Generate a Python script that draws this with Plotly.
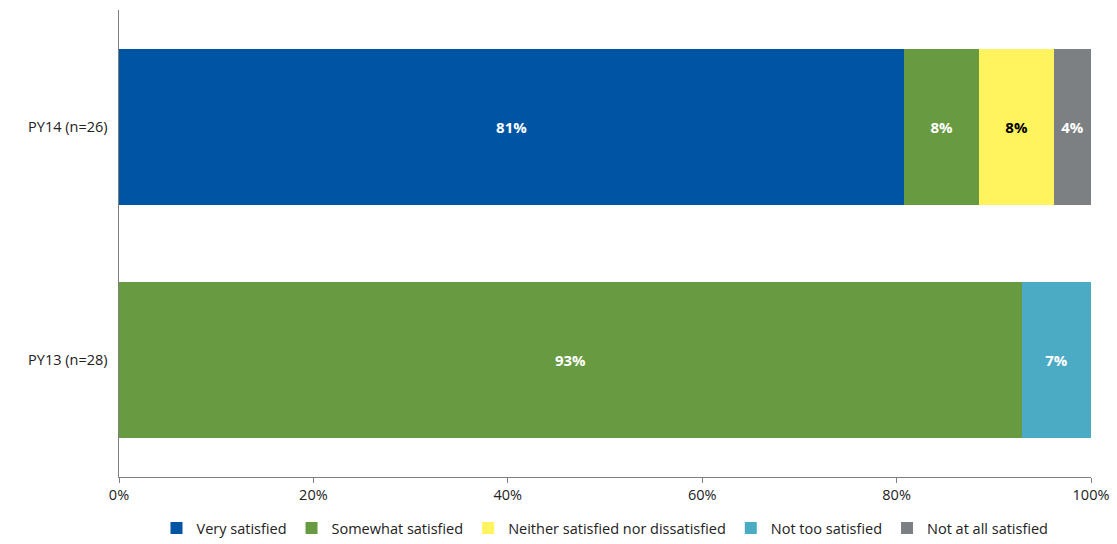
import plotly.graph_objects as go

# Survey groups (bottom to top on the y axis)
groups = ["PY13 (n=28)", "PY14 (n=26)"]

# Share of respondents per satisfaction level, percent
very_satisfied = [None, 80.8]
somewhat_satisfied = [92.9, 7.7]
neither = [None, 7.7]
not_too_satisfied = [7.1, None]
not_at_all_satisfied = [None, 3.8]

series = [
    ("Very satisfied", very_satisfied, "#0054A4", "white"),
    ("Somewhat satisfied", somewhat_satisfied, "#689A41", "white"),
    ("Neither satisfied nor dissatisfied", neither, "#FFF35E", "black"),
    ("Not too satisfied", not_too_satisfied, "#4BABC5", "white"),
    ("Not at all satisfied", not_at_all_satisfied, "#7D8083", "white"),
]

font_family = "Open Sans, Liberation Sans, sans-serif"

W, H = 1117, 544
top_px, axis_px = 10, 477
# plot region spans the full height below the top margin; the bar area
# stops at the x-axis line and the legend sits underneath in the same region
axis_bottom = (H - axis_px) / (H - top_px)

fig = go.Figure()
for name, values, color, text_color in series:
    fig.add_trace(go.Bar(
        y=groups,
        x=values,
        name=name,
        orientation="h",
        marker=dict(color=color, line=dict(width=0)),
        texttemplate="<b>%{x:.0f}%</b>",
        textposition="inside",
        insidetextanchor="middle",
        textfont=dict(color=text_color, size=15, family=font_family),
        constraintext="none",
    ))

fig.update_layout(
    barmode="stack",
    bargap=0.33,
    width=W,
    height=H,
    margin=dict(l=119, r=26, t=top_px, b=0),
    plot_bgcolor="white",
    paper_bgcolor="white",
    font=dict(family=font_family, size=14.5, color="#222222"),
    xaxis=dict(
        range=[0, 100],
        tickvals=[0, 20, 40, 60, 80, 100],
        ticktext=["0%", "20%", "40%", "60%", "80%", "100%"],
        showgrid=False,
        zeroline=False,
        showline=True,
        linecolor="#7f7f7f",
        linewidth=1,
        ticks="outside",
        ticklen=5,
        tickcolor="#7f7f7f",
        tickfont=dict(size=14.5, color="#222222"),
        fixedrange=True,
    ),
    yaxis=dict(
        domain=[axis_bottom, 1],
        showgrid=False,
        zeroline=False,
        showline=True,
        linecolor="#7f7f7f",
        linewidth=1,
        ticks="",
        ticksuffix="  ",
        tickfont=dict(size=14.5, color="#222222"),
        fixedrange=True,
    ),
    legend=dict(
        orientation="h",
        x=0.5,
        xanchor="center",
        y=0,
        yanchor="bottom",
        font=dict(size=14.5, color="#222222"),
        traceorder="normal",
        itemwidth=30,
        tracegroupgap=0,
        bgcolor="rgba(0,0,0,0)",
    ),
    showlegend=True,
)

fig.write_html("out.html")
